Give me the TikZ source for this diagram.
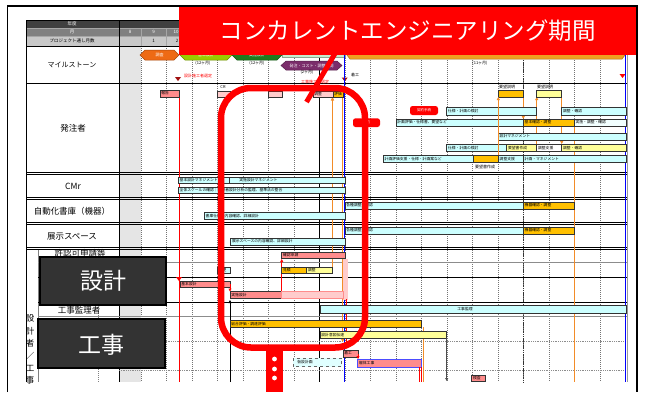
\documentclass[tikz,border=0pt]{standalone}
\usepackage{fontspec}
\setmainfont{Noto Sans CJK JP}
\usetikzlibrary{arrows.meta}
\definecolor{cyanbar}{HTML}{CCFFFF}
\definecolor{goldbar}{HTML}{FFC000}
\definecolor{ylwbar}{HTML}{FFFF99}
\definecolor{pinkbar}{HTML}{FF8C8C}
\definecolor{ltpink}{HTML}{FFCCCC}
\definecolor{bred}{HTML}{FF0000}
\definecolor{darkbox}{HTML}{333333}
\definecolor{orangeln}{HTML}{F28C28}
\definecolor{hdrA}{HTML}{404040}
\definecolor{hdrB}{HTML}{808080}
\definecolor{hdrC}{HTML}{C8C8C8}
\definecolor{msorange}{HTML}{EE6A14}
\definecolor{mslgreen}{HTML}{99CC00}
\definecolor{msdgreen}{HTML}{1E7B1E}
\definecolor{mspurple}{HTML}{7B2D6B}
\definecolor{mswork}{HTML}{F0A020}
\definecolor{mspale}{HTML}{C6EFCE}
\definecolor{darkred}{HTML}{A01010}
\newcommand\gb[7]{%
  \path[gbar,fill=#6] (#2,#3) rectangle (#4,#5);
  \node[btxt,anchor=west] (#1) at (#2,{(#3+#5)/2}) {#7};}
\newcommand\hexa[7]{%
  \path[draw=#6!70!black,line width=0.5pt,fill=#6] (#2,{(#3+#5)/2}) -- ({#2+5},#3) -- ({#4-5},#3) -- (#4,{(#3+#5)/2}) -- ({#4-5},#5) -- ({#2+5},#5) -- cycle;
  \node[mtxt] (#1) at ({(#2+#4)/2},{(#3+#5)/2}) {#7};}
\newcommand\tridown[3]{\fill[#3] ({#1-3},{#2-3}) -- ({#1+3},{#2-3}) -- (#1,{#2+1}) -- cycle;}
\begin{document}
\begin{tikzpicture}[x=1pt,y=-1pt,
  gridln/.style={black!55,line width=0.35pt,dash pattern=on 1pt off 1pt},
  gbar/.style={draw=black!80,line width=0.5pt},
  btxt/.style={font=\fontsize{3.8}{4}\selectfont,inner sep=1.2pt,text=black},
  rowlbl/.style={font=\fontsize{8.5}{9}\selectfont,inner sep=0pt},
  hdr/.style={font=\fontsize{4.5}{5}\selectfont,inner sep=0pt},
  mtxt/.style={font=\fontsize{4}{4}\selectfont,text=white,inner sep=0pt},
  small/.style={font=\fontsize{4}{4}\selectfont,inner sep=0pt},
  redtxt/.style={font=\fontsize{4}{4}\selectfont,inner sep=0pt,text=red},
  oarrow/.style={orangeln,line width=0.7pt,-{Triangle[length=3pt,width=3pt]}},
  rarrow/.style={red,line width=0.6pt,-{Triangle[length=3pt,width=3pt]}},
  bigbox/.style={fill=darkbox,draw=black,line width=1.2pt},
  bigtxt/.style={font=\fontsize{23}{23}\selectfont,text=white,inner sep=0pt},
  pill/.style={fill=bred,rounded corners=2.5pt},
  pilltxt/.style={font=\fontsize{3.5}{4}\selectfont,text=white,inner sep=0pt}]
\useasboundingbox (0,0) rectangle (645,392);
\fill[white] (0,0) rectangle (645,392);
% frame
\draw[black,line width=1.6pt] (7.5,392) -- (7.5,6) -- (637,6) -- (637,392);
% gray column
\fill[black!10] (119,46) rectangle (140.7,382);
% header rows
\fill[hdrA] (26,20) rectangle (627,28);
\fill[hdrB] (26,28) rectangle (627,36);
\fill[hdrC] (26,36) rectangle (627,46);
\foreach \k in {0,...,19} \draw[black!35,line width=0.3pt] ({140.7+25.5*\k},28) -- ({140.7+25.5*\k},46);
\draw[black!35,line width=0.3pt] (26,28) -- (627,28) (26,36) -- (627,36);
\node[hdr,text=white] (hy) at (72,24) {年度};
\node[hdr,text=white] (hm) at (72,32) {月};
\node[hdr] (hp) at (72,41) {プロジェクト通し月数};
\node[hdr,text=white] (m0) at (130,32) {8};
\node[hdr,text=white] (mn0) at (153.5,32) {9};
\node[hdr,text=white] (mn1) at (176,32) {10};
\node[hdr] (pn0) at (153.5,41) {1};
\node[hdr] (pn1) at (177,41) {2};
% grid verticals
\foreach \k in {0,...,19} \draw[gridln] ({140.7+25.5*\k},46) -- ({140.7+25.5*\k},382);
\draw[black,line width=0.6pt] (319.2,46) -- (319.2,382);
\draw[black!80,line width=1pt,dash pattern=on 1.5pt off 0.8pt] (523.3,46) -- (523.3,382);
\draw[black,line width=0.7pt] (26,20) -- (26,382) (119,20) -- (119,382);
\draw[black!50,line width=0.4pt] (38,249) -- (38,382);
\draw[black!50,line width=0.4pt,dash pattern=on 1pt off 1pt] (97.7,249) -- (97.7,382);
% horizontal lines
\draw[black,line width=0.7pt] (26,20) -- (627,20) (26,46) -- (627,46) (26,83) -- (627,83);
\foreach \yy in {172,197,222,247}{
  \draw[black,line width=0.7pt] (26,\yy) -- (627,\yy) (26,\yy+2.3) -- (627,\yy+2.3);}
\draw[black!45,line width=0.8pt] (38,262.7) -- (627,262.7) (38,316.7) -- (627,316.7);
\draw[black,line width=0.6pt] (38,277.3) -- (627,277.3) (38,302) -- (627,302);
\draw[black!45,line width=0.8pt,dash pattern=on 1pt off 0.8pt] (119,341.7) -- (627,341.7) (119,370) -- (627,370);
\draw[black!40,line width=0.4pt] (627,20) -- (627,382);
% row labels
\node[rowlbl,font=\fontsize{7}{7}\selectfont] (lms) at (72,65) {マイルストーン};
\node[rowlbl] (lha) at (73,128) {発注者};
\node[rowlbl] (lcm) at (73,186) {CMr};
\node[rowlbl] (lji) at (72,211) {自動化書庫（機器）};
\node[rowlbl] (lte) at (72,236) {展示スペース};
\node[rowlbl] (lky) at (80,253.5) {許認可申請等};
\node[rowlbl] (lkk) at (79,310) {工事監理者};
\foreach \c/\yy [count=\i] in {設/318,計/331,者/343.5,／/356,工/368,事/380}
  \node[rowlbl] (vt\i) at (30,\yy) {\c};
% milestones
\path[fill=mspale,draw=mspale!70!black,line width=0.4pt] (282,48) rectangle (345,57);
\hexa{ms5}{345}{46}{627}{59}{mswork}{工　事　期　間}
\hexa{ms1}{140}{50}{179}{60}{msorange}{調査}
\hexa{ms2}{180}{50}{232}{60}{mslgreen}{基本設計}
\hexa{ms3}{232}{50}{282}{60}{msdgreen}{実施設計}
\hexa{ms4}{281}{61}{342}{70}{mspurple}{発注・コスト・調整期間}
\node[small] (d1) at (203,63.3) {(12ヶ月)};
\node[small] (d2) at (257,63.3) {(12ヶ月)};
\node[small] (d3) at (307,72) {(2ヶ月)};
\node[small] (d4) at (480,63) {(11ヶ月)};
\node[redtxt] (r1) at (198,76) {設計施工者選定};
\node[redtxt] (r2) at (315,81.5) {工事施工者選定};
\node[small] (chk) at (355,75) {着工};
\tridown{178}{80}{darkred}
\tridown{344.7}{80.5}{darkred}
\tridown{622.5}{77}{red}
% vertical connectors
\draw[red,line width=0.6pt] (179,97) -- (179,382);
\tridown{179}{280}{red}
\draw[orangeln,line width=0.7pt] (332.5,266.7) -- (332.5,100);
\fill[orangeln] (332.5,96.5) -- (330.8,100.5) -- (334.2,100.5) -- cycle;
\draw[oarrow] (342.7,97) -- (342.7,342);
\draw[orangeln,line width=0.7pt] (574.2,126) -- (574.2,382);
\draw[orangeln,line width=0.7pt] (423,327.3) -- (423,382);
\draw[oarrow] (523.3,97) -- (523.3,119);
\draw[oarrow] (536.7,144) -- (536.7,97);
\draw[oarrow] (561.7,97) -- (561.7,144);
% blue lines
\draw[blue,line width=0.9pt] (344.7,46) -- (344.7,382) (625.2,46) -- (625.2,382);
% 発注者 items
\gb{h01}{160}{90}{179}{97}{pinkbar}{報告}
\gb{h02}{217}{91}{230}{97}{ltpink}{}
\gb{h03}{268}{91}{282.5}{97}{ltpink}{}
\node[small] (cr1) at (223,86.7) {CR};
\node[small] (cr2) at (275,86.7) {CR};
\gb{h04}{313}{91.5}{333}{97}{ltpink}{調整}
\gb{h05}{333}{91.5}{343}{97}{goldbar}{評価}
\gb{h06}{498.3}{90}{523.3}{97}{goldbar}{}
\gb{h07}{536.7}{90}{561.7}{97}{ylwbar}{}
\node[small] (h06l) at (507,87) {要望説明};
\node[small] (h07l) at (545,87) {要望説明};
\gb{h11}{446.7}{107}{536.7}{115}{cyanbar}{仕様・計画の検討}
\gb{h12}{561.7}{107}{626.7}{115}{cyanbar}{調整・確認}
\gb{h21}{396}{119}{523.3}{126}{cyanbar}{計画評価・仕様書、要望など}
\gb{h22}{523.3}{119}{574.2}{126}{goldbar}{基本確認・調整}
\gb{h23}{574.2}{119}{626.7}{126}{cyanbar!25}{実施・調整・確認}
\gb{h31}{498.3}{133}{626.7}{140}{cyanbar}{設計マネジメント}
\gb{h41}{446.7}{144}{506.7}{151.7}{cyanbar}{仕様・計画の検討}
\gb{h42}{506.7}{144}{536.7}{151.7}{ylwbar}{要望書作成}
\gb{h43}{536.7}{144}{561.7}{151.7}{white}{調整支援}
\gb{h44}{561.7}{144}{626.7}{151.7}{ylwbar}{調整・確認}
\gb{h51}{383.3}{155}{473.3}{162.7}{cyanbar}{計画評価支援・仕様・計画案など}
\gb{h52}{473.3}{155}{498.3}{162.7}{goldbar}{}
\gb{h53}{498.3}{155}{523.3}{162.7}{cyanbar}{調整支援}
\gb{h54}{523.3}{155}{626.7}{162.7}{cyanbar}{計画・マネジメント}
\node[small] (h52l) at (485,166.5) {要望書作成};
\draw[oarrow] (498.3,155) -- (498.3,97);
% CMr
\gb{c11}{178.3}{177}{229.3}{183.5}{cyanbar}{基本設計マネジメント}
\path[gbar,fill=cyanbar] (229.3,177) rectangle (345,183.5);
\node[btxt,anchor=west] (c12) at (238,180.25) {実施設計マネジメント};
\gb{c21}{178.3}{187}{345}{193.3}{cyanbar}{全体スケールの確認｜関係者設計分析の監理、基準法の整合}
% 自動化書庫
\gb{a11}{204.3}{212.7}{345}{219}{cyanbar}{書庫仕様の内容確認、詳細設計}
\gb{a21}{345}{202}{523.3}{209}{cyanbar}{各種調整・確認}
\gb{a22}{523.3}{202}{574.2}{209}{goldbar}{機器確認・調整}
% 展示スペース
\gb{e11}{230.7}{238}{345}{245}{cyanbar}{展示スペースの内容確認、詳細設計}
\gb{e21}{345}{227}{523.3}{234}{cyanbar}{各種調整・確認}
\gb{e22}{523.3}{227}{574.2}{234}{goldbar}{機器確認・調整}
% 設計者 section
\fill[ltpink] (343,259) rectangle (348,300);
\gb{s01}{281.7}{252.3}{345}{258.5}{pinkbar}{確認申請}
\draw[rarrow] (281.7,293) -- (281.7,259);
\gb{s02}{217.3}{267}{230}{273.5}{cyanbar}{変更}
\gb{s03}{281.7}{267}{306.7}{273.5}{goldbar}{見積}
\gb{s04}{306.7}{267}{332.7}{273.5}{ylwbar}{調整}
\gb{s05}{180}{281}{230}{287.5}{pinkbar}{基本設計}
\draw[rarrow] (230,284) -- (230,291.5);
\gb{s06}{230}{291.7}{281.7}{298.3}{pinkbar}{実施設計}
\path[gbar,fill=ltpink,draw=pinkbar] (281.7,291.7) rectangle (343,298.3);
\draw[black,line width=0.6pt,-{Triangle[length=3pt,width=3pt]}] (230,382) -- (230,300);
\draw[rarrow] (346,299) -- (346,345);
\path[gbar,fill=cyanbar] (320,305) rectangle (626.7,313.3);
\node[btxt] (s07) at (465,309.2) {工事監理};
\gb{s08}{230}{320}{421}{327.3}{goldbar}{総合評価・調達評価}
\gb{s09}{320}{331.7}{446.7}{338.3}{ylwbar}{設計意図伝達}
\draw[black!70,line width=0.7pt,-{Triangle[length=3pt,width=3pt]}] (446.7,338.3) -- (446.7,381);
\gb{s10}{343}{350}{358}{357}{pinkbar}{着工}
\draw[rarrow] (358,354) -- (358,359);
\path[fill=pinkbar,draw=blue!70,line width=0.6pt] (357.7,359.3) rectangle (421,367.3);
\node[btxt,anchor=west] (s11) at (357.7,363.3) {躯体工事};
\path[fill=cyanbar!60,draw=black!60,line width=0.5pt,dashed] (293,358) rectangle (341.7,366.7);
\node[btxt,anchor=west] (s12) at (296,362.3) {仮設計画};
\draw[red,line width=0.5pt] (419,367.3) -- (419,382) (421,367.3) -- (421,382);
\gb{s13}{471.7}{375}{485}{381.7}{pinkbar}{検査}
% red labels
\path[pill] (410,106) rectangle (438,115);
\node[pilltxt] (p1) at (424,110.5) {契約手続};
\path[pill] (353,118.3) rectangle (380,127);
\node[pilltxt] (p2) at (366.5,122.6) {契約};
% big rounded frame and continuation
\draw[bred,line width=6.5pt,rounded corners=30pt] (221,88) rectangle (365,347.5);
\fill[bred] (266,351) rectangle (283,392);
\foreach \yy in {359,369,378} \fill[white] (274.5,\yy) circle (2.4);
% slash pointer
\draw[bred,line width=5pt] (306.5,102) -- (340,45);
% banner
\fill[bred] (179,7) rectangle (636,54.5);
\node[font=\fontsize{23.5}{24}\selectfont,text=white,inner sep=0pt] (ttl) at (407.5,31) {コンカレントエンジニアリング期間};
% dark boxes
\path[bigbox] (40,257) rectangle (166,305);
\node[bigtxt] (bx1) at (103.5,280.5) {設計};
\path[bigbox] (38,319) rectangle (165,368);
\node[bigtxt] (bx2) at (101.5,344.5) {工事};
\end{tikzpicture}
\end{document}
